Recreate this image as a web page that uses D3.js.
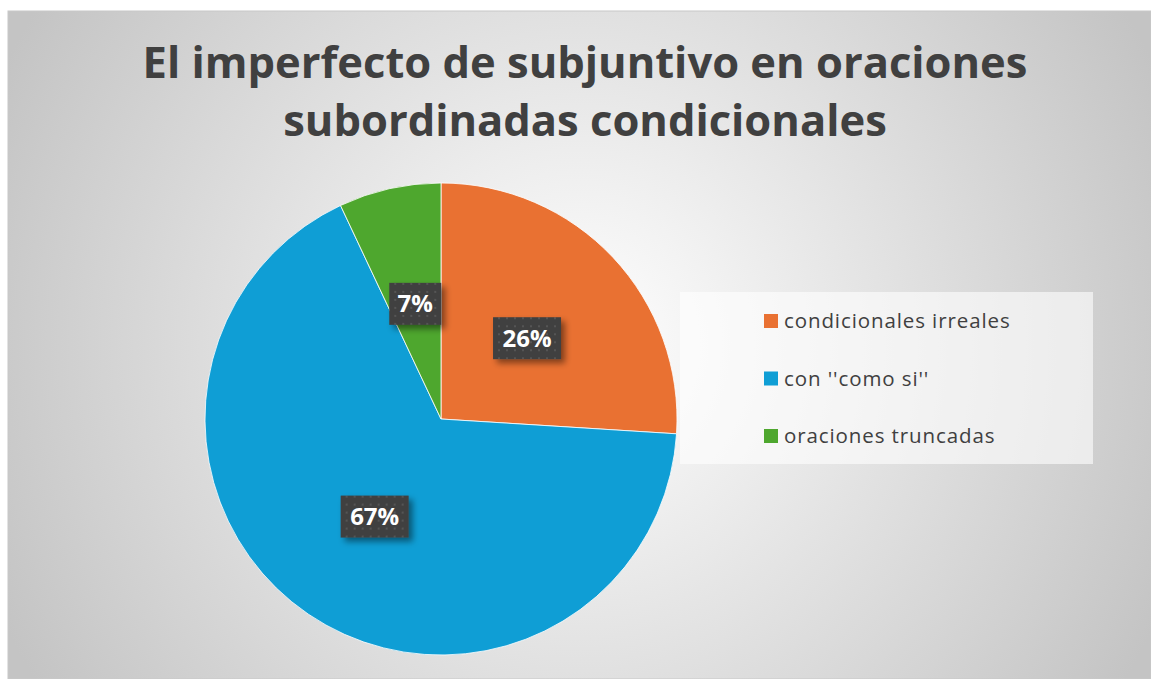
<!DOCTYPE html>
<html>
<head>
<meta charset="utf-8">
<script src="https://cdn.jsdelivr.net/npm/d3@7"></script>
<style>
  html, body { margin: 0; padding: 0; background: #ffffff; }
  svg { display: block; }
</style>
</head>
<body>
<svg id="chart" width="1151" height="679"></svg>
<script>
// data
var categories = ["condicionales irreales", "con ''como si''", "oraciones truncadas"];
var values = [26, 67, 7];
var labels = ["26%", "67%", "7%"];
var colors = ["#E97132", "#0F9ED5", "#4EA72E"];
var titleLines = ["El imperfecto de subjuntivo en oraciones", "subordinadas condicionales"];

var width = 1151, height = 679;
var svg = d3.select("#chart");
var defs = svg.append("defs");

// background gradient
var grad = defs.append("radialGradient")
    .attr("id", "bg")
    .attr("gradientUnits", "userSpaceOnUse")
    .attr("cx", 580).attr("cy", 345).attr("r", 640);
grad.append("stop").attr("offset", "0%").attr("stop-color", "#ffffff");
grad.append("stop").attr("offset", "100%").attr("stop-color", "#c4c4c4");

// dotted pattern for data labels
var pat = defs.append("pattern")
    .attr("id", "dots")
    .attr("patternUnits", "userSpaceOnUse")
    .attr("width", 8).attr("height", 8);
pat.append("rect").attr("width", 8).attr("height", 8).attr("fill", "#404040");
pat.append("rect").attr("x", 3).attr("y", 3).attr("width", 2).attr("height", 2).attr("fill", "#555555");

// shadow for labels
var filt = defs.append("filter").attr("id", "shadow")
    .attr("x", "-30%").attr("y", "-30%").attr("width", "160%").attr("height", "160%");
filt.append("feDropShadow")
    .attr("dx", 4).attr("dy", 4).attr("stdDeviation", 3)
    .attr("flood-color", "#000").attr("flood-opacity", 0.45);

svg.append("rect")
    .attr("x", 8).attr("y", 11)
    .attr("width", width - 8).attr("height", height - 11)
    .attr("fill", "url(#bg)")
    .attr("stroke", "#c8c8c8")
    .attr("stroke-width", 1);

// title
svg.append("g").selectAll("text")
    .data(titleLines)
  .enter().append("text")
    .attr("x", 585)
    .attr("y", function(d, i) { return 78 + i * 58; })
    .attr("text-anchor", "middle")
    .style("font-family", "'Open Sans', sans-serif")
    .style("font-weight", "700")
    .style("font-size", "43.5px")
    .style("fill", "#404040")
    .text(function(d) { return d; });

// pie
var cx = 441, cy = 419, radius = 236;
var pie = d3.pie().sort(null);
var arc = d3.arc().innerRadius(0).outerRadius(radius);
var arcs = pie(values);

var g = svg.append("g").attr("transform", "translate(" + [cx, cy] + ")");

g.selectAll("path")
    .data(arcs)
  .enter().append("path")
    .attr("d", arc)
    .attr("fill", function(d, i) { return colors[i]; })
    .attr("stroke", "#ffffff")
    .attr("stroke-width", 0.8);

// data labels
var lab = g.selectAll(".lab")
    .data(arcs)
  .enter().append("g")
    .attr("class", "lab")
    .attr("transform", function(d) { return "translate(" + arc.centroid(d) + ")"; });

lab.append("rect")
    .attr("x", function(d, i) { return labels[i].length == 2 ? -26 : -34; })
    .attr("y", -21)
    .attr("width", function(d, i) { return labels[i].length == 2 ? 52 : 68; })
    .attr("height", 42)
    .attr("fill", "url(#dots)")
    .attr("filter", "url(#shadow)");

lab.append("text")
    .attr("text-anchor", "middle")
    .attr("dy", "0.36em")
    .style("font-family", "'Open Sans', sans-serif")
    .style("font-weight", "700")
    .style("font-size", "24px")
    .style("fill", "#ffffff")
    .text(function(d, i) { return labels[i]; });

// legend
var legend = svg.append("g");
legend.append("rect")
    .attr("x", 680).attr("y", 292)
    .attr("width", 413).attr("height", 172)
    .attr("fill", "#ffffff")
    .attr("fill-opacity", 0.6);

var rows = legend.selectAll(".row")
    .data(categories)
  .enter().append("g")
    .attr("class", "row")
    .attr("transform", function(d, i) { return "translate(" + [764, 321 + i * 57.5] + ")"; });

rows.append("rect")
    .attr("x", 0).attr("y", -7)
    .attr("width", 14).attr("height", 14)
    .attr("fill", function(d, i) { return colors[i]; });

rows.append("text")
    .attr("x", 20)
    .attr("dy", "0.35em")
    .style("font-family", "'Open Sans', sans-serif")
    .style("font-size", "20.5px")
    .style("letter-spacing", "0.9px")
    .style("fill", "#404040")
    .text(function(d) { return d; });
</script>
</body>
</html>
